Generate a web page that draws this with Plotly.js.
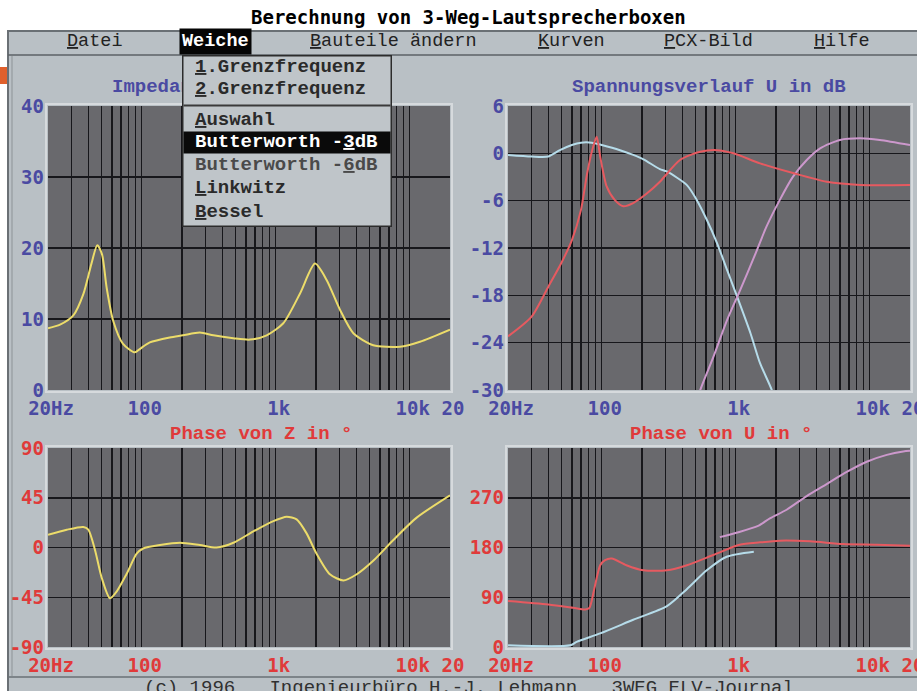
<!DOCTYPE html>
<html>
<head>
<meta charset="utf-8">
<script src="https://cdn.plot.ly/plotly-3.0.1.min.js"></script>
<style>html,body{margin:0;padding:0;background:#fff;}#chart{width:917px;height:691px;}</style>
</head>
<body>
<div id="chart"></div>
<script>
// ---------- data ----------
const gridFreqs = [20,30,40,50,60,70,80,90,100,200,300,400,500,600,700,800,900,1000,2000,3000,4000,5000,6000,7000,8000,9000,10000,20000];
const freqLabelMap = {20:'20Hz',100:'100',1000:'1k',10000:'10k',20000:'20'};

// Impedance (Ohm)
const impFreq = [20,24.6,30.9,36.7,42.2,46.6,50.6,54.8,61.2,72.6,89,97.3,115,162,203,272,343,483,643,857,1140,1520,1966,2400,3020,3800,5350,8470,11940,20000];
const impOhm  = [8.7,9.2,10.5,13.5,17.8,20.4,19.1,14.4,9.8,6.5,5.3,5.8,6.7,7.4,7.7,8.1,7.7,7.3,7.1,7.7,9.4,13.6,17.8,15.5,11.3,8.0,6.3,6.1,6.8,8.5];

// Voltage response (dB)
const uLowFreq = [20,30,40,48.8,59.9,70,84.4,100,137,172,205,272,306,431,512,610,727,864,1027,1290,1520,1860,2100];
const uLowDb   = [-0.2,-0.4,-0.4,0.4,1.05,1.35,1.35,1.05,0.4,-0.2,-0.76,-2.0,-2.3,-4.0,-5.9,-8.45,-11.4,-14.8,-18.2,-22.8,-26.6,-30,-33];
const uMidFreq = [20,30,40,50,60,70,78,85,91.8,97.5,109,125,145,172,217,272,384,544,727,962,1520,2680,4775,8480,20000];
const uMidDb   = [-23.2,-20.7,-16.9,-13.9,-11.0,-7.2,-2.5,0.4,2.1,-0.4,-4.2,-5.9,-6.7,-6.3,-5.1,-3.6,-0.85,0.2,0.4,0,-1.27,-2.5,-3.6,-4.0,-4.0];
const uHighFreq = [480,544,682,864,1082,1376,1698,2136,2680,3392,4268,6010,8480,11900,20000];
const uHighDb   = [-33,-30,-25.8,-21.1,-17.3,-13.1,-9.3,-5.9,-2.96,-0.85,0.63,1.7,1.9,1.7,1.05];

// Phase of Z (deg)
const phzFreq = [20,27.6,36.7,40,44.9,50.3,58,65.2,77,91.8,102.6,137,193,272,362,484,682,962,1208,1434,1698,2020,2540,3200,4030,5370,7560,11280,20000];
const phzDeg  = [11.5,16.1,18.6,16.1,-2.5,-27.3,-45.9,-39.7,-24.2,-5.6,-0.9,2.2,4.3,2.2,0,4.3,14.6,23.9,27.9,25.4,13.0,-5.6,-24.2,-29.8,-24.2,-11.8,6.8,27,47.2];

// Phase of U (deg)
const phuMidFreq = [20,40,61.4,75.5,81,88,97.5,106,119,153,205,307,432,680,1070,1520,2136,3590,6350,11280,20000];
const phuMidDeg  = [83.2,76.9,70.8,67.7,70.8,104.6,147.9,157.2,160.1,147.9,138.7,138.7,147.9,166.4,184.9,189.3,192.4,191.2,186.2,185,183.1];
const phuLowFreq = [20,58.3,65,97.5,172,307,432,608,857,1366];
const phuLowDeg  = [3,3,9.2,24.6,49.2,73.9,104.6,138.7,163.3,172.5];
const phuHighFreq = [762,1013,1470,1800,2400,3392,4775,6740,9500,13420,17800,20000];
const phuHighDeg  = [198.8,206.7,219,232.8,248.3,273.1,294.8,316.6,335.2,347.6,353.8,355];

const yImpTicks = [0,10,20,30,40];
const yDbTicks = [6,0,-6,-12,-18,-24,-30];
const yPhzTicks = [90,45,0,-45,-90];
const yPhuTicks = [0,90,180,270];

// ---------- styling ----------
const W = 917, H = 691;
const X = px => px / W;
const Y = py => 1 - py / H;
const PANEL = '#b9c0c5';
const PLOTBG = '#69696d';
const GRID = '#17171b';
const NAVY = '#4a4aa2';
const RED = '#e03a3a';
const LABFONT = 'DejaVu Sans Mono, monospace';
const MONO = 'Liberation Mono, Courier New, monospace';

const C_YEL = '#ecdc6a', C_RED = '#e65a60', C_CYAN = '#b6dcea', C_PINK = '#cc98cc';

const boxes = {
  p1: {x0:48, x1:450, y0:106, y1:390},
  p2: {x0:508, x1:910, y0:106, y1:390},
  p3: {x0:48, x1:450, y0:448, y1:647},
  p4: {x0:508, x1:910, y0:448, y1:647}
};

function xAxis(b, anchor, color) {
  return {
    domain:[X(b.x0), X(b.x1)], anchor:anchor, type:'log',
    range:[Math.log10(20), Math.log10(20000)],
    tickmode:'array', tickvals:gridFreqs,
    ticktext:gridFreqs.map(f => freqLabelMap[f] || ''),
    showgrid:true, gridcolor:GRID, gridwidth:1.5, zeroline:false, showline:false,
    ticks:'', tickangle:0, ticklabelstandoff:5, ticklabeloverflow:'allow', ticklabelshift:3,
    tickfont:{family:LABFONT, size:19, color:color, weight:'bold'},
    fixedrange:true
  };
}
function yAxis(b, anchor, range, ticks, color) {
  return {
    domain:[Y(b.y1), Y(b.y0)], anchor:anchor, range:range,
    tickmode:'array', tickvals:ticks, ticktext:ticks.map(String),
    showgrid:true, gridcolor:GRID, gridwidth:1.5, zeroline:false, showline:false,
    ticks:'', ticklabelstandoff:3,
    tickfont:{family:LABFONT, size:19, color:color, weight:'bold'},
    fixedrange:true
  };
}
function line(x, y, color, xa, ya) {
  return {x:x, y:y, xaxis:xa, yaxis:ya, type:'scatter', mode:'lines',
    line:{color:color, width:2, shape:'spline', smoothing:0.7}, hoverinfo:'skip', showlegend:false};
}

const traces = [
  line(impFreq, impOhm, C_YEL, 'x', 'y'),
  line(uLowFreq, uLowDb, C_CYAN, 'x2', 'y2'),
  line(uHighFreq, uHighDb, C_PINK, 'x2', 'y2'),
  line(uMidFreq, uMidDb, C_RED, 'x2', 'y2'),
  line(phzFreq, phzDeg, C_YEL, 'x3', 'y3'),
  line(phuLowFreq, phuLowDeg, C_CYAN, 'x4', 'y4'),
  line(phuHighFreq, phuHighDeg, C_PINK, 'x4', 'y4'),
  line(phuMidFreq, phuMidDeg, C_RED, 'x4', 'y4')
];

// ---------- decorations ----------
function rect(x0,y0,x1,y1,fill,lineColor,lw,layer){
  return {type:'rect', xref:'paper', yref:'paper', x0:X(x0), x1:X(x1), y0:Y(y1), y1:Y(y0),
    fillcolor:fill||'rgba(0,0,0,0)', line:{color:lineColor||'rgba(0,0,0,0)', width:lw||0}, layer:layer||'below'};
}
function seg(x0,y0,x1,y1,color,w,layer){
  return {type:'line', xref:'paper', yref:'paper', x0:X(x0), x1:X(x1), y0:Y(y0), y1:Y(y1),
    line:{color:color, width:w}, layer:layer||'below'};
}
const shapes = [
  rect(0,0,917,30,'#ffffff'),
  rect(0,30,8,691,'#ffffff'),
  rect(0,67,7,84,'#e0602c'),
  seg(8,31,917,31,'#6a7075',2),
  seg(8,30,8,691,'#6a7075',2),
  seg(8,55,917,55,'#5c6266',1.5),
  seg(12,56,12,676,'#8d9397',1),
  seg(8,677,917,677,'#6a7075',1.5)
];
Object.values(boxes).forEach(b => {
  shapes.push(rect(b.x0-2,b.y0-2,b.x1+2,b.y1+2,null,'#d6dadd',2,'above'));
});

const ul = c => '<span style="text-decoration:underline">' + c + '</span>';
function ann(text, x, y, opts) {
  return Object.assign({text:text, xref:'paper', yref:'paper', x:X(x), y:Y(y), showarrow:false,
    xanchor:'center', yanchor:'middle', font:{family:MONO, size:19, color:'#222'}}, opts||{});
}
const menuFont = {family:MONO, size:19, color:'#2a2a2a', weight:'bold'};
const barFont = {family:MONO, size:18.5, color:'#222'};
const annotations = [
  ann('Berechnung von 3-Weg-Lautsprecherboxen', 468, 17, {font:{family:LABFONT, size:19, color:'#000', weight:'bold'}}),
  // menu bar
  ann(ul('D')+'atei', 65, 42, {xanchor:'left', font:barFont}),
  ann('Weiche', 179, 42, {xanchor:'left', bgcolor:'#050505', borderpad:2, font:{family:MONO, size:18.5, color:'#ffffff', weight:'bold'}}),
  ann(ul('B')+'auteile ändern', 308, 42, {xanchor:'left', font:barFont}),
  ann(ul('K')+'urven', 536, 42, {xanchor:'left', font:barFont}),
  ann(ul('P')+'CX-Bild', 662, 42, {xanchor:'left', font:barFont}),
  ann(ul('H')+'ilfe', 812, 42, {xanchor:'left', font:barFont}),
  // subplot titles
  ann('Impedanzverlauf Z in Ohm', 249, 87, {font:{family:MONO, size:19, color:NAVY, weight:'bold'}}),
  ann('Spannungsverlauf U in dB', 709, 87, {font:{family:MONO, size:19, color:NAVY, weight:'bold'}}),
  ann('Phase von Z in °', 261, 434, {font:{family:MONO, size:19, color:RED, weight:'bold'}}),
  ann('Phase von U in °', 721, 434, {font:{family:MONO, size:19, color:RED, weight:'bold'}}),
  // status bar
  ann('(c) 1996\u00a0\u00a0\u00a0Ingenieurbüro H.-J. Lehmann\u00a0\u00a0\u00a03WEG ELV-Journal', 469, 688, {font:{family:MONO, size:19, color:'#303030'}}),
  // drop-down menu
  ann(' ', 182, 55, {xanchor:'left', yanchor:'top', width:207, height:169, bgcolor:'#bfc5c9', bordercolor:'#2c2c2c', borderwidth:1.5, borderpad:0}),
  ann(' ', 183, 105, {xanchor:'left', yanchor:'middle', width:206, height:1, bgcolor:'#3a3a3a', borderpad:0}),
  ann(' ', 183, 142.5, {xanchor:'left', yanchor:'middle', width:206, height:21, bgcolor:'#0a0a0a', borderpad:0}),
  ann(ul('1')+'.Grenzfrequenz', 193, 67, {xanchor:'left', font:menuFont}),
  ann(ul('2')+'.Grenzfrequenz', 193, 89, {xanchor:'left', font:menuFont}),
  ann(ul('A')+'uswahl', 193, 120, {xanchor:'left', font:menuFont}),
  ann('Butterworth -'+ul('3')+'dB', 193, 142, {xanchor:'left', font:{family:MONO, size:19, color:'#ffffff', weight:'bold'}}),
  ann('Butterworth -'+ul('6')+'dB', 193, 165, {xanchor:'left', font:{family:MONO, size:19, color:'#4a4a4a', weight:'bold'}}),
  ann(ul('L')+'inkwitz', 193, 188, {xanchor:'left', font:menuFont}),
  ann(ul('B')+'essel', 193, 212, {xanchor:'left', font:menuFont})
];

const layout = {
  width:W, height:H, margin:{l:0, r:0, t:0, b:0},
  paper_bgcolor:PANEL, plot_bgcolor:PLOTBG, showlegend:false,
  xaxis: xAxis(boxes.p1, 'y', NAVY),
  yaxis: yAxis(boxes.p1, 'x', [0,40], yImpTicks, NAVY),
  xaxis2: xAxis(boxes.p2, 'y2', NAVY),
  yaxis2: yAxis(boxes.p2, 'x2', [-30,6], yDbTicks, NAVY),
  xaxis3: xAxis(boxes.p3, 'y3', RED),
  yaxis3: yAxis(boxes.p3, 'x3', [-90,90], yPhzTicks, RED),
  xaxis4: xAxis(boxes.p4, 'y4', RED),
  yaxis4: yAxis(boxes.p4, 'x4', [0,360], yPhuTicks, RED),
  shapes: shapes,
  annotations: annotations
};

Plotly.newPlot('chart', traces, layout, {displayModeBar:false, staticPlot:true});
</script>
</body>
</html>
